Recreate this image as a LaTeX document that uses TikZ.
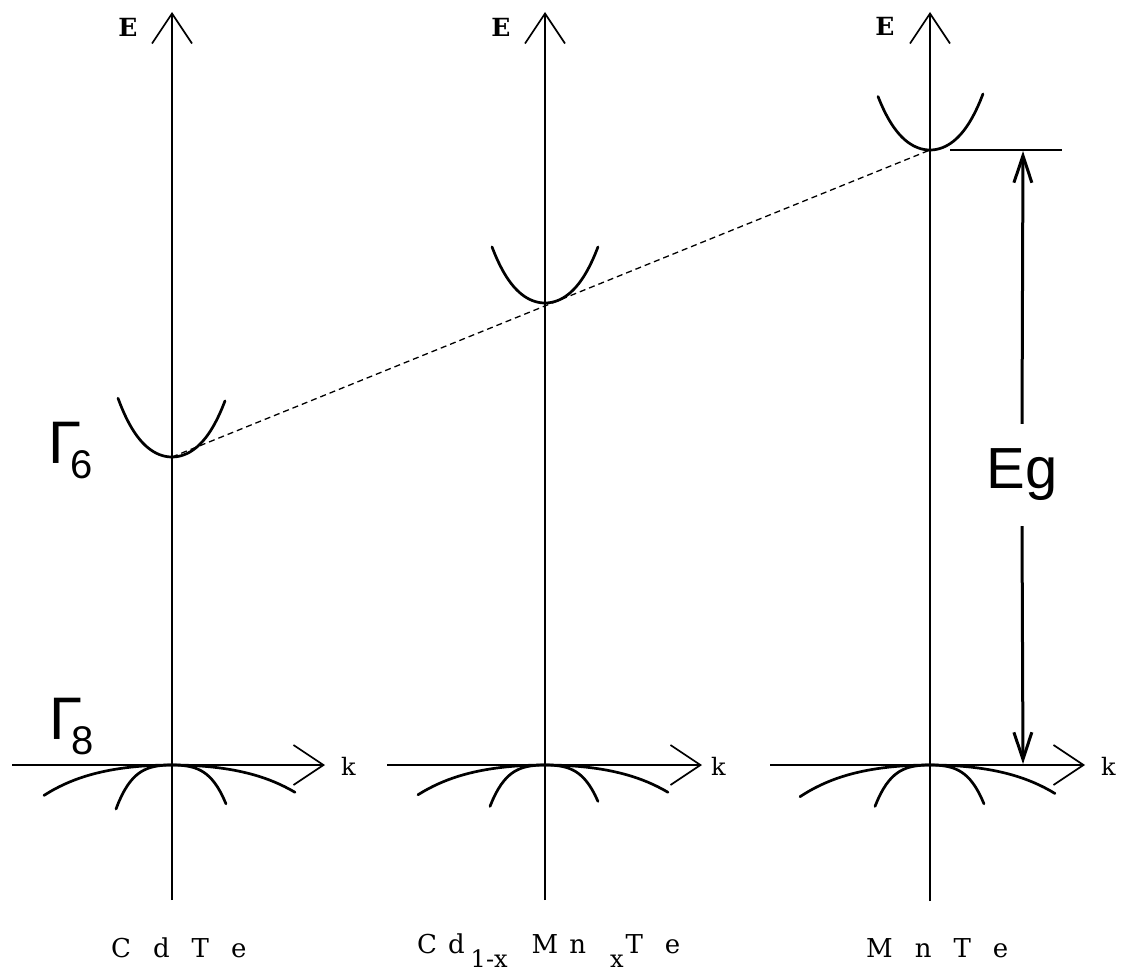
\documentclass[tikz,border=0pt]{standalone}
\usepackage{fontspec}
\setmainfont{DejaVu Serif}
\newfontfamily\sansfnt{Liberation Sans}
\usepackage{tikz}
\usetikzlibrary{arrows.meta,positioning,calc}
\newcommand{\lowidx}[1]{\raisebox{-15pt}{\fontsize{40}{40}\selectfont #1}}
\newcommand{\lowsub}[1]{\raisebox{-14pt}{\fontsize{24}{24}\selectfont #1}}
\newcommand{\widespaces}{\spaceskip=22pt\relax}
\tikzset{
  bs/axis/.style={line width=1.7pt, -{Straight Barb[length=30pt,width=40pt]}},
  bs/band/.style={line width=2.7pt, line cap=round},
  bs/trend/.style={line width=1.3pt, dash pattern=on 6pt off 4pt},
  bs/gap/.style={line width=3pt, -{Straight Barb[length=27pt,width=18pt]}},
  bs/tick/.style={line width=2pt},
  bs/axlabel/.style={font=\fontsize{24}{24}\selectfont, inner sep=0pt},
  bs/elabel/.style={font=\bfseries\fontsize{25}{25}\selectfont, inner sep=0pt},
  bs/gamma/.style={font=\sansfnt\fontsize{60}{60}\selectfont, inner sep=0pt, anchor=base west},
  bs/eg/.style={font=\sansfnt\fontsize{58}{58}\selectfont, inner sep=0pt, minimum height=102pt},
  bs/name/.style={font=\fontsize{26}{26}\selectfont, execute at begin node=\widespaces, inner sep=0pt, anchor=base west}
}
\begin{document}
\begin{tikzpicture}[x=1pt,y=-1pt]
\useasboundingbox (0,0) rectangle (1127,979);
% band extrema at k=0
\coordinate (cdte) at (172,765);
\coordinate (cdmnte) at (545,765);
\coordinate (mnte) at (930,765);
\coordinate (cdtemin) at (172,457);
\coordinate (cdmntemin) at (545,303);
\coordinate (mntemin) at (930,150);
% axis ends
\coordinate (cdtebot) at (172,900);
\coordinate (cdtetop) at (172,12);
\coordinate (cdmntebot) at (545,900);
\coordinate (cdmntetop) at (545,12);
\coordinate (mntebot) at (930,901);
\coordinate (mntetop) at (930,12);
\coordinate (cdtek0) at (12,765);
\coordinate (cdtek1) at (325,765);
\coordinate (cdmntek0) at (387,765);
\coordinate (cdmntek1) at (702,765);
\coordinate (mntek0) at (770,765);
\coordinate (mntek1) at (1085,765);

% E and k axes
\draw[bs/axis] (cdtebot) -- (cdtetop);
\draw[bs/axis] (cdmntebot) -- (cdmntetop);
\draw[bs/axis] (mntebot) -- (mntetop);
\draw[bs/axis] (cdtek0) -- (cdtek1);
\draw[bs/axis] (cdmntek0) -- (cdmntek1);
\draw[bs/axis] (mntek0) -- (mntek1);
\node[bs/elabel] (ecdte) at (128,27) {E};
\node[bs/elabel] (ecdmnte) at (501,27) {E};
\node[bs/elabel] (emnte) at (885,26) {E};
\node[bs/axlabel, anchor=base west] (kcdte) at (341,775) {k};
\node[bs/axlabel, anchor=base west] (kcdmnte) at (711,775) {k};
\node[bs/axlabel, anchor=base west] (kmnte) at (1101,775) {k};

% conduction bands (k in units of 100)
\draw[bs/band, shift={(cdtemin)}] plot[domain=-0.54:0.53, samples=40] (100*\x,{-150*\x*\x-177*\x*\x*\x*\x});
\draw[bs/band, shift={(cdmntemin)}] plot[domain=-0.53:0.53, samples=40] (100*\x,{-150*\x*\x-177*\x*\x*\x*\x});
\draw[bs/band, shift={(mntemin)}] plot[domain=-0.52:0.53, samples=40] (100*\x,{-150*\x*\x-177*\x*\x*\x*\x});

% heavy and light valence bands
\draw[bs/band, shift={(cdte)}] plot[domain=-1.28:1.23, samples=50] (100*\x,{12*\x*\x+4*\x*\x*\x*\x});
\draw[bs/band, shift={(cdte)}] plot[domain=-0.56:0.54, samples=40] (100*\x,{40*\x*\x+320*\x*\x*\x*\x});
\draw[bs/band, shift={(cdmnte)}] plot[domain=-1.27:1.23, samples=50] (100*\x,{12*\x*\x+4*\x*\x*\x*\x});
\draw[bs/band, shift={(cdmnte)}] plot[domain=-0.55:0.53, samples=40] (100*\x,{40*\x*\x+320*\x*\x*\x*\x});
\draw[bs/band, shift={(mnte)}] plot[domain=-1.30:1.25, samples=50] (100*\x,{12*\x*\x+4*\x*\x*\x*\x});
\draw[bs/band, shift={(mnte)}] plot[domain=-0.55:0.54, samples=40] (100*\x,{40*\x*\x+320*\x*\x*\x*\x});

% gap trend
\draw[bs/trend] (cdtemin) -- (mntemin);

% band gap of MnTe
\coordinate (ticka) at (950,150);
\coordinate (tickb) at (1062,150);
\coordinate (gaptop) at (1023,151);
\coordinate (gapbot) at (1023,764);
\draw[bs/tick] (ticka) -- (tickb);
\node[bs/eg] (eg) at (1022,475) {Eg};
\draw[bs/gap] (eg.north) -- (gaptop);
\draw[bs/gap] (eg.south) -- (gapbot);

% band symmetry labels
\node[bs/gamma] (gsix) at (48,463) {Γ\kern-11pt\lowidx{6}};
\node[bs/gamma] (geight) at (49,739) {Γ\kern-11pt\lowidx{8}};

% compounds
\node[bs/name] (ncdte) at (111,957) {C d T e};
\node[bs/name] (ncdmnte) at (417,953) {C\hspace{11pt}d\hspace{6pt}\lowsub{1-x}\hspace{24pt}M\hspace{11pt}n\hspace{24pt}\lowsub{x}\hspace{2pt}T\hspace{22pt}e};
\node[bs/name] (nmnte) at (866,957) {M n T e};
\end{tikzpicture}
\end{document}
